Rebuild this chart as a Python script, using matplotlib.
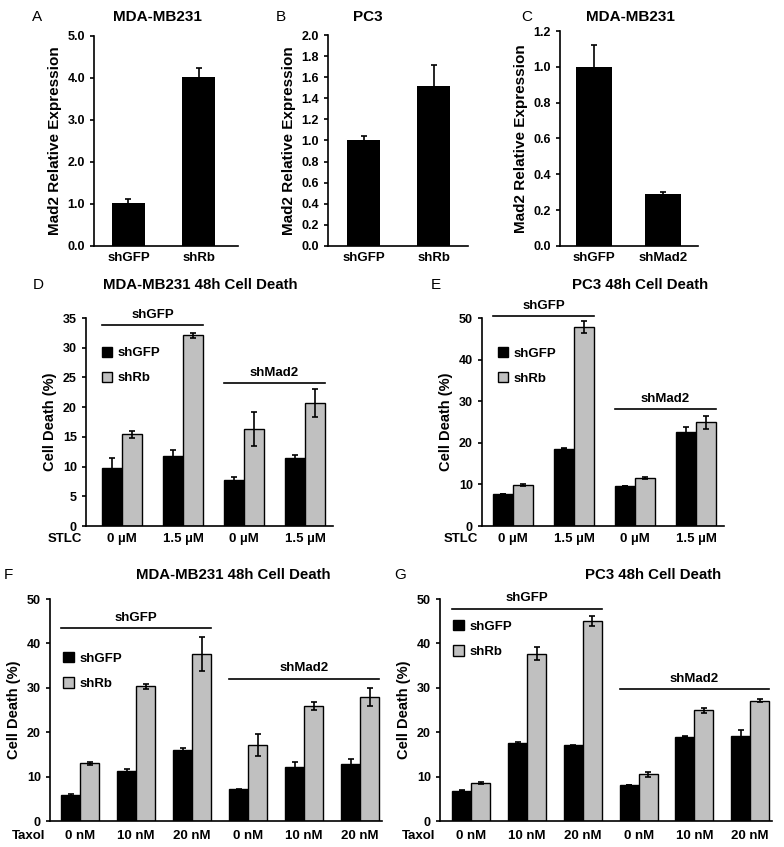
import numpy as np
import matplotlib
matplotlib.use('Agg')
import matplotlib.pyplot as plt
from matplotlib.ticker import FormatStrFormatter

plt.rcParams['font.family'] = 'Liberation Sans'
plt.rcParams['font.weight'] = 'bold'
plt.rcParams['axes.labelweight'] = 'bold'
plt.rcParams['font.size'] = 9
plt.rcParams['axes.linewidth'] = 1.2

GRAY = '#c0c0c0'
W, H = 784, 847

# A-C: Mad2 relative expression
a_labels = ['shGFP', 'shRb']
a_vals = [1.02, 4.02]
a_err = [0.11, 0.22]
b_labels = ['shGFP', 'shRb']
b_vals = [1.00, 1.52]
b_err = [0.045, 0.20]
c_labels = ['shGFP', 'shMad2']
c_vals = [1.00, 0.29]
c_err = [0.12, 0.01]

# D-E: STLC
stlc_doses = ['0 µM', '1.5 µM', '0 µM', '1.5 µM']
d_shgfp = [9.7, 11.8, 7.7, 11.5]
d_shgfp_err = [1.7, 1.0, 0.5, 0.5]
d_shrb = [15.4, 32.1, 16.3, 20.7]
d_shrb_err = [0.6, 0.45, 2.9, 2.4]

e_shgfp = [7.7, 18.6, 9.6, 22.6]
e_shgfp_err = [0.1, 0.1, 0.1, 1.1]
e_shrb = [9.8, 47.8, 11.6, 24.9]
e_shrb_err = [0.2, 1.5, 0.2, 1.6]

# F-G: Taxol
taxol_doses = ['0 nM', '10 nM', '20 nM', '0 nM', '10 nM', '20 nM']
f_shgfp = [5.8, 11.3, 16.1, 7.1, 12.2, 12.9]
f_shgfp_err = [0.2, 0.5, 0.3, 0.1, 1.0, 1.1]
f_shrb = [13.0, 30.3, 37.6, 17.2, 25.9, 27.9]
f_shrb_err = [0.3, 0.5, 3.8, 2.5, 0.9, 2.1]

g_shgfp = [6.8, 17.6, 17.1, 8.1, 19.0, 19.2]
g_shgfp_err = [0.1, 0.3, 0.1, 0.1, 0.1, 1.4]
g_shrb = [8.5, 37.7, 45.1, 10.5, 24.9, 27.1]
g_shrb_err = [0.2, 1.4, 1.1, 0.5, 0.5, 0.4]

ERR = dict(ecolor='black', elinewidth=1.2, capsize=2.5, capthick=1.2)

fig = plt.figure(figsize=(W / 100, H / 100), dpi=100)


def add_ax(left, top, right, bottom):
    return fig.add_axes([left / W, 1 - bottom / H, (right - left) / W, (bottom - top) / H])


def ftext(x, y, s, **kw):
    fig.text(x / W, 1 - y / H, s, ha='center', va='center', **kw)


def style(ax, xpad=4, xsize=9):
    ax.spines['top'].set_visible(False)
    ax.spines['right'].set_visible(False)
    ax.tick_params(axis='x', length=0, pad=xpad, labelsize=xsize)
    ax.tick_params(axis='y', length=3, width=1.2, direction='out', labelsize=9)


def simple_panel(ax, labels, vals, err, ymax, step, xlim, width):
    x = np.arange(len(vals))
    ax.bar(x, vals, width, color='black', yerr=err, error_kw=ERR)
    ax.set_xlim(*xlim)
    ax.set_ylim(0, ymax)
    ax.set_yticks(np.arange(0, ymax + step / 2, step))
    ax.yaxis.set_major_formatter(FormatStrFormatter('%.1f'))
    ax.set_xticks(x)
    ax.set_xticklabels(labels)
    ax.set_ylabel('Mad2 Relative Expression', fontsize=11)
    style(ax, xpad=4, xsize=9.5)


def group_panel(ax, doses, blk, blk_err, gry, gry_err, ymax, step, xlim, w,
                drug, split, gfp_y, mad_y, leg_xy, xpad):
    x = np.arange(len(doses))
    b1 = ax.bar(x - w, blk, w, align='edge', color='black', edgecolor='black',
                linewidth=1, yerr=blk_err, error_kw=ERR)
    b2 = ax.bar(x, gry, w, align='edge', color=GRAY, edgecolor='black',
                linewidth=1, yerr=gry_err, error_kw=ERR)
    ax.set_xlim(*xlim)
    ax.set_ylim(0, ymax)
    ax.set_yticks(np.arange(0, ymax + step / 2, step))
    ax.set_xticks(x)
    ax.set_xticklabels(doses)
    ax.set_ylabel('Cell Death (%)', fontsize=10.5)
    style(ax, xpad=xpad, xsize=9.5)
    ax.annotate(drug, xy=(0, 0), xycoords='axes fraction', xytext=(-3, -xpad),
                textcoords='offset points', ha='right', va='top', fontsize=9.5)
    # group brackets
    n = len(doses)
    for (i0, i1, ly, name) in ((0, split - 1, gfp_y, 'shGFP'), (split, n - 1, mad_y, 'shMad2')):
        x0, x1 = x[i0] - w, x[i1] + w
        ax.plot([x0, x1], [ly, ly], color='black', lw=1.2, clip_on=False)
        ax.text((x0 + x1) / 2, ly + ymax * 0.02, name, ha='center', va='bottom', fontsize=9.5)
    ax.legend([b1, b2], ['shGFP', 'shRb'], loc='upper left', bbox_to_anchor=leg_xy,
              bbox_transform=ax.transData, frameon=False, borderpad=0, borderaxespad=0,
              handlelength=0.8, handleheight=0.8, handletextpad=0.4, labelspacing=0.95,
              fontsize=9.5)


axA = add_ax(94, 36, 238, 246)
simple_panel(axA, a_labels, a_vals, a_err, 5.0, 1.0, (-0.49, 1.56), 0.47)
axB = add_ax(328, 35, 468, 246)
simple_panel(axB, b_labels, b_vals, b_err, 2.0, 0.2, (-0.51, 1.49), 0.47)
axC = add_ax(560, 31, 698, 246)
simple_panel(axC, c_labels, c_vals, c_err, 1.2, 0.2, (-0.49, 1.51), 0.52)

axD = add_ax(86, 318, 333, 526)
group_panel(axD, stlc_doses, d_shgfp, d_shgfp_err, d_shrb, d_shrb_err, 35, 5,
            (-0.59, 3.46), 0.33, 'STLC', 2, 33.8, 24.1, (-0.33, 30.2), 5)
axE = add_ax(482, 318, 724, 526)
group_panel(axE, stlc_doses, e_shgfp, e_shgfp_err, e_shrb, e_shrb_err, 50, 10,
            (-0.51, 3.46), 0.33, 'STLC', 2, 50.4, 28.1, (-0.25, 43.0), 5)
axF = add_ax(50, 599, 382, 821)
group_panel(axF, taxol_doses, f_shgfp, f_shgfp_err, f_shrb, f_shrb_err, 50, 10,
            (-0.54, 5.39), 0.34, 'Taxol', 3, 43.4, 32.0, (-0.30, 38.0), 6.5)
axG = add_ax(440, 599, 772, 821)
group_panel(axG, taxol_doses, g_shgfp, g_shgfp_err, g_shrb, g_shrb_err, 50, 10,
            (-0.56, 5.39), 0.34, 'Taxol', 3, 47.8, 29.7, (-0.32, 45.2), 6.5)

# titles and panel letters
ftext(157, 17, 'MDA-MB231', fontsize=11)
ftext(368, 17, 'PC3', fontsize=11)
ftext(630, 17, 'MDA-MB231', fontsize=11)
ftext(200, 285, 'MDA-MB231 48h Cell Death', fontsize=10.8)
ftext(640, 285, 'PC3 48h Cell Death', fontsize=10.8)
ftext(233, 575, 'MDA-MB231 48h Cell Death', fontsize=10.8)
ftext(653, 575, 'PC3 48h Cell Death', fontsize=10.8)
for letter, lx, ly in (('A', 37, 17), ('B', 281, 17), ('C', 527, 17), ('D', 38, 285),
                       ('E', 436, 285), ('F', 8, 575), ('G', 400, 575)):
    ftext(lx, ly, letter, fontsize=11, fontweight='normal')

fig.savefig('out.png', dpi=100)
